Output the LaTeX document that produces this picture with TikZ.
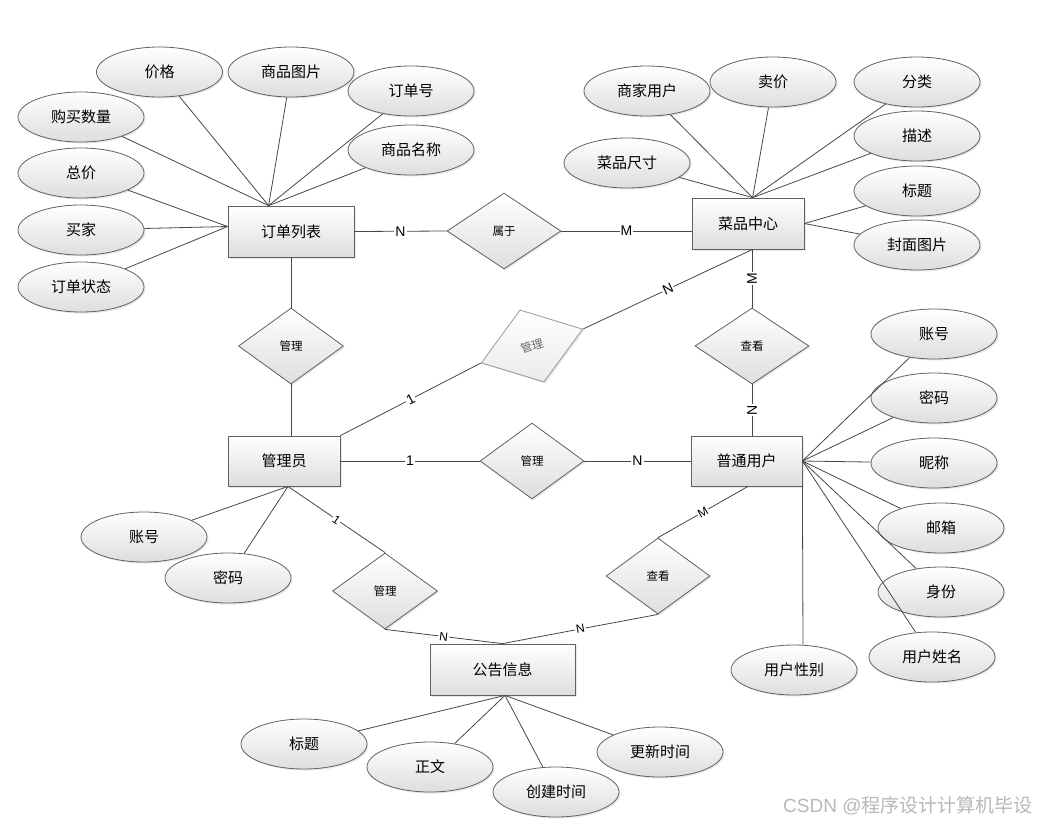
\documentclass[tikz,border=0pt]{standalone}
\usepackage{fontspec}
\setmainfont{Noto Sans CJK SC}
\newfontfamily\cardfont{Liberation Sans}
\usetikzlibrary{shapes.geometric,shadows,calc}
\begin{document}
\begin{tikzpicture}[x=1pt,y=-1pt,
  shade/.style={top color=white, bottom color=black!13, draw=black!62, line width=0.8pt,
    drop shadow={shadow xshift=1.5pt, shadow yshift=-1.5pt, opacity=0.18}},
  attr/.style={shade, ellipse, minimum width=126pt, minimum height=50pt, inner sep=0pt,
    font=\fontsize{15}{15}\selectfont},
  ent/.style={shade, rectangle, minimum height=51pt, inner sep=0pt,
    font=\fontsize{15}{15}\selectfont},
  rel/.style={shade, diamond, minimum width=105pt, minimum height=76pt, inner sep=0pt,
    font=\fontsize{11.5}{11.5}\selectfont},
  card/.style={fill=white, inner sep=1pt, font=\cardfont\fontsize{14}{14}\selectfont},
  smallcard/.style={card, font=\cardfont\fontsize{12}{12}\selectfont},
  ln/.style={draw=black!72, line width=0.8pt}]
\useasboundingbox (0,0) rectangle (1038,825);

% entities
\node[ent, minimum width=126pt] (ol) at (291,231.5) {订单列表};
\node[ent, minimum width=112pt] (cp) at (748,223.5) {菜品中心};
\node[ent, minimum width=112pt, minimum height=50pt] (gly) at (284,461) {管理员};
\node[ent, minimum width=111pt, minimum height=50pt] (pt) at (746.5,461) {普通用户};
\node[ent, minimum width=145pt] (gg) at (502.5,669.5) {公告信息};

% relationships
\node[rel, minimum width=114pt] (shu) at (504,231) {属于};
\node[rel] (gl1) at (291,346) {管理};
\node[rel, minimum width=107pt, rotate=18.4, draw=black!40, text=black!60,
  bottom color=black!8] (gl2) at (532,346) {管理};
\node[rel, minimum width=114pt] (ck1) at (752,346) {查看};
\node[rel, minimum width=104pt] (gl3) at (532,461) {管理};
\node[rel, minimum width=104pt] (ck2) at (658,576) {查看};
\node[rel] (gl4) at (385,591) {管理};

% attributes of 订单列表
\node[attr] (a1) at (159.5,72) {价格};
\node[attr] (a2) at (291,72) {商品图片};
\node[attr] (a3) at (411,91) {订单号};
\node[attr] (a4) at (81,117) {购买数量};
\node[attr] (a5) at (411,150) {商品名称};
\node[attr] (a6) at (81,173) {总价};
\node[attr] (a7) at (81,230) {买家};
\node[attr] (a8) at (81,287) {订单状态};

% attributes of 菜品中心
\node[attr] (b1) at (647,91) {商家用户};
\node[attr] (b2) at (773,82) {卖价};
\node[attr] (b3) at (917,82) {分类};
\node[attr] (b4) at (917,136) {描述};
\node[attr] (b5) at (917,191) {标题};
\node[attr] (b6) at (917,245) {封面图片};
\node[attr] (b7) at (627,163) {菜品尺寸};

% attributes of 普通用户
\node[attr] (c1) at (934,334) {账号};
\node[attr] (c2) at (934,398) {密码};
\node[attr] (c3) at (934,463) {昵称};
\node[attr] (c4) at (941,528) {邮箱};
\node[attr] (c5) at (941,592) {身份};
\node[attr] (c6) at (932,657) {用户姓名};
\node[attr] (c7) at (794,670) {用户性别};

% attributes of 管理员
\node[attr] (d1) at (144,537) {账号};
\node[attr] (d2) at (228,578) {密码};

% attributes of 公告信息
\node[attr] (e1) at (304,744) {标题};
\node[attr] (e2) at (430,767) {正文};
\node[attr] (e3) at (556,792) {创建时间};
\node[attr] (e4) at (660,752) {更新时间};

% hub points
\coordinate (olt) at ($(ol.north west)+(41,0)$);
\coordinate (oll) at ($(ol.west)+(0,-5)$);
\coordinate (cpt) at ($(cp.north west)+(61,0)$);
\coordinate (cpb) at ($(cp.south west)+(61,0)$);
\coordinate (glb) at ($(gly.south)+(4,0)$);
\coordinate (ggb) at ($(gg.south)+(2.5,0)$);
\coordinate (c7t) at ($(c7.north)+(9,0)$);
\coordinate (ptb) at ($(pt.south)+(1.5,0)$);

% attribute connectors
\foreach \a in {a1,a2,a3,a4,a5} \draw[ln] (\a) -- (olt);
\foreach \a in {a6,a7,a8} \draw[ln] (\a) -- (oll);
\foreach \a in {b1,b2,b3,b4,b7} \draw[ln] (\a) -- (cpt);
\foreach \a in {b5,b6} \draw[ln] (\a) -- (cp.east);
\foreach \a in {c1,c2,c3,c4,c5,c6} \draw[ln] (\a) -- (pt.east);
\draw[ln] (pt.south east) -- (c7t);
\foreach \a in {d1,d2} \draw[ln] (\a) -- (glb);
\foreach \a in {e1,e2,e3,e4} \draw[ln] (\a) -- (ggb);

% relationship connectors
\draw[ln] (ol.east) -- node[card]{N} (shu.west);
\draw[ln] (shu.east) -- node[card]{M} (shu.east -| cp.west);
\draw[ln] (ol.south) -- (gl1.north);
\draw[ln] (gl1.south) -- (gl1.south |- gly.north);
\draw[ln] (gly.north east) -- node[card, sloped]{1} (gl2.west);
\draw[ln] (gl2.east) -- node[card, sloped]{N} (cpb);
\draw[ln] (ck1.north |- cp.south) -- node[card, rotate=90]{M} (ck1.north);
\draw[ln] (ck1.south) -- node[card, rotate=90]{N} (ck1.south |- pt.north);
\draw[ln] (gly.east) -- node[card]{1} (gl3.west);
\draw[ln] (gl3.east) -- node[card]{N} (pt.west);
\draw[ln] (glb) -- node[smallcard, sloped]{1} (gl4.north);
\draw[ln] (gl4.south) -- node[smallcard, sloped]{N} (gg.north);
\draw[ln] (ck2.north) -- node[smallcard, sloped]{M} (ptb);
\draw[ln] (ck2.south) -- node[smallcard, sloped]{N} (gg.north);

% watermark
\node[anchor=west, text=black!28, font=\fontsize{19}{19}\selectfont, inner sep=0pt] (wm) at (783,806) {{\cardfont CSDN @}程序设计计算机毕设};
\end{tikzpicture}
\end{document}
